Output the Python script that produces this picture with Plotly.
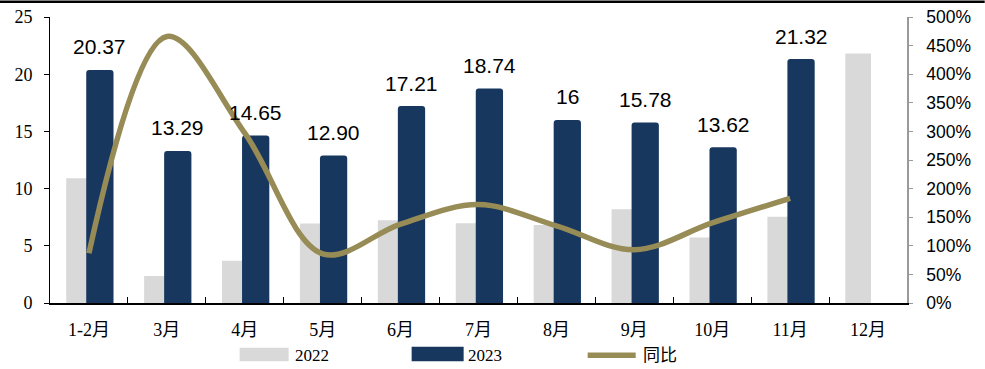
import plotly.graph_objects as go

# Monthly values (left axis) and year-on-year change in % (right axis)
months = ["1-2月", "3月", "4月", "5月", "6月", "7月", "8月", "9月", "10月", "11月", "12月"]
v2022 = [10.9, 2.36, 3.7, 6.94, 7.23, 6.97, 6.82, 8.19, 5.72, 7.55, 21.8]
v2023 = [20.37, 13.29, 14.65, 12.90, 17.21, 18.74, 16, 15.78, 13.62, 21.32]
v2023_labels = ["20.37", "13.29", "14.65", "12.90", "17.21", "18.74", "16", "15.78", "13.62", "21.32"]
yoy = [87, 466, 297, 86, 138, 172, 135, 93, 140, 183]
left_ticks = [0, 5, 10, 15, 20, 25]
right_ticks = [0, 50, 100, 150, 200, 250, 300, 350, 400, 450, 500]
right_labels = [f"{v}%" for v in right_ticks]

C2022 = "#D9D9D9"
C2023 = "#17375E"
CYOY = "#978B56"
SERIF = "Times New Roman, Liberation Serif, Noto Sans CJK SC, serif"
SANS = "Arial, Liberation Sans, sans-serif"

W, H = 985, 369
L, R, T, B = 50.4, 907.3, 16.5, 302.7  # plot area in pixels


def px(x):
    return (x - L) / (R - L)


def py(y):
    return (B - y) / (B - T)


fig = go.Figure()
fig.add_trace(go.Bar(x=months, y=v2022, name="2022", marker=dict(color=C2022, line_width=0),
                     width=0.33, offset=-0.292, showlegend=False))
fig.add_trace(go.Bar(x=months[:len(v2023)], y=v2023, name="2023",
                     marker=dict(color=C2023, line_width=0, cornerradius=3),
                     width=0.35, offset=-0.035, showlegend=False))
fig.add_trace(go.Scatter(x=months[:len(yoy)], y=yoy, name="同比", yaxis="y2", mode="lines",
                         line=dict(color=CYOY, width=5.5, shape="spline", smoothing=1.0),
                         showlegend=False))

# value labels above the 2023 bars
for m, v, t in zip(months, v2023, v2023_labels):
    fig.add_annotation(x=m, y=v, text=t, showarrow=False, xshift=11, yshift=23,
                       yanchor="middle", font=dict(family=SANS, size=21, color="black"))

# hand-laid legend row
shapes = [
    dict(type="rect", xref="paper", yref="paper", x0=px(0), x1=px(W), y0=py(2.5), y1=py(0),
         fillcolor="black", line_width=0),
    dict(type="rect", xref="paper", yref="paper", x0=px(240), x1=px(289), y0=py(361), y1=py(347.5),
         fillcolor=C2022, line_width=0),
    dict(type="rect", xref="paper", yref="paper", x0=px(412), x1=px(464), y0=py(361), y1=py(346.5),
         fillcolor=C2023, line_width=0),
    dict(type="line", xref="paper", yref="paper", x0=px(588), x1=px(636), y0=py(355), y1=py(355),
         line=dict(color=CYOY, width=5.5)),
]
for x0, txt in [(293, "2022"), (466, "2023"), (641, "同比")]:
    fig.add_annotation(xref="paper", yref="paper", x=px(x0), y=py(355), text=txt, showarrow=False,
                       xanchor="left", yanchor="middle",
                       font=dict(family=SERIF, size=17, color="black"))

fig.update_layout(
    width=W, height=H,
    margin=dict(l=L, r=W - R, t=T, b=H - B, pad=0, autoexpand=False),
    paper_bgcolor="white", plot_bgcolor="white",
    barmode="overlay", showlegend=False, shapes=shapes,
    xaxis=dict(type="category", showline=True, linecolor="black", linewidth=1.5,
               ticks="inside", tickson="boundaries", ticklen=6, tickcolor="black",
               tickfont=dict(family=SERIF, size=18, color="black"), ticklabelstandoff=10,
               showgrid=False, zeroline=False, automargin=False),
    yaxis=dict(range=[0, 25], tickvals=left_ticks, showline=True, linecolor="black", linewidth=1,
               ticks="outside", ticklen=5, tickcolor="black", showgrid=False, zeroline=False,
               tickfont=dict(family=SERIF, size=18, color="black"), ticklabelstandoff=8,
               automargin=False),
    yaxis2=dict(range=[0, 500], tickvals=right_ticks, ticktext=right_labels, overlaying="y",
                side="right", showline=True, linecolor="#9A9A9A", linewidth=1.5, ticks="outside",
                ticklen=4, tickcolor="#9A9A9A", showgrid=False, zeroline=False,
                tickfont=dict(family=SANS, size=17.5, color="black"), ticklabelstandoff=10,
                automargin=False),
)

fig.write_html("out.html")
